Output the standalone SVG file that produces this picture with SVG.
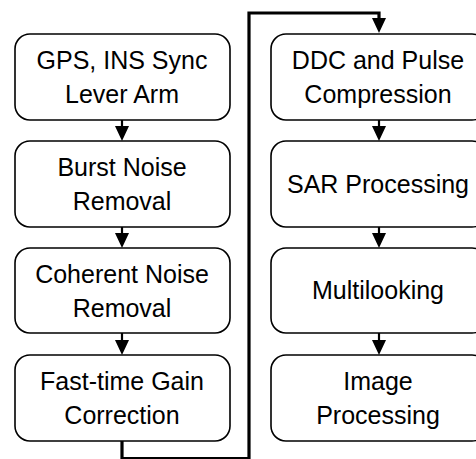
<svg xmlns="http://www.w3.org/2000/svg" width="476" height="459" viewBox="0 0 476 459">
<defs>
<style>
.box{fill:#fff;stroke:#000;stroke-width:1.6}
.t{font-family:"Liberation Sans",Arial,sans-serif;font-size:25px;fill:#000;text-anchor:middle}
.c{fill:none;stroke:#000;stroke-width:2.2}
.ct{fill:none;stroke:#000;stroke-width:3.2;stroke-linejoin:miter}
.ah{fill:#000}
</style>
</defs>
<rect width="476" height="459" fill="#fff"/>
<g id="connectors">
<line class="c" x1="122" y1="120" x2="122" y2="128"/>
<polygon class="ah" points="115,126 129,126 122,141"/>
<line class="c" x1="122" y1="227" x2="122" y2="235"/>
<polygon class="ah" points="115,233 129,233 122,248"/>
<line class="c" x1="122" y1="333" x2="122" y2="342"/>
<polygon class="ah" points="115,340 129,340 122,355"/>
<polyline class="ct" points="122,441 122,458.5 249,458.5 249,13 379,13 379,20"/>
<polygon class="ah" points="372,18 386,18 379,33"/>
<line class="c" x1="379" y1="120" x2="379" y2="128"/>
<polygon class="ah" points="372,126 386,126 379,141"/>
<line class="c" x1="379" y1="227" x2="379" y2="235"/>
<polygon class="ah" points="372,233 386,233 379,248"/>
<line class="c" x1="379" y1="333" x2="379" y2="342"/>
<polygon class="ah" points="372,340 386,340 379,355"/>
</g>
<g id="n1"><rect class="box" x="15" y="34" width="215" height="86" rx="15"/><text class="t" x="122" y="69">GPS, INS Sync</text><text class="t" x="122" y="103">Lever Arm</text></g>
<g id="n2"><rect class="box" x="15" y="141" width="215" height="86" rx="15"/><text class="t" x="122" y="176">Burst Noise</text><text class="t" x="122" y="210">Removal</text></g>
<g id="n3"><rect class="box" x="15" y="248" width="215" height="85" rx="15"/><text class="t" x="122" y="283">Coherent Noise</text><text class="t" x="122" y="317">Removal</text></g>
<g id="n4"><rect class="box" x="15" y="355" width="215" height="86" rx="15"/><text class="t" x="122" y="390">Fast-time Gain</text><text class="t" x="122" y="424">Correction</text></g>
<g id="n5"><rect class="box" x="271" y="34" width="216" height="86" rx="15"/><text class="t" x="378" y="69">DDC and Pulse</text><text class="t" x="378" y="103">Compression</text></g>
<g id="n6"><rect class="box" x="271" y="141" width="216" height="86" rx="15"/><text class="t" x="378" y="193">SAR Processing</text></g>
<g id="n7"><rect class="box" x="271" y="248" width="216" height="85" rx="15"/><text class="t" x="378" y="299">Multilooking</text></g>
<g id="n8"><rect class="box" x="271" y="355" width="216" height="86" rx="15"/><text class="t" x="378" y="390">Image</text><text class="t" x="378" y="424">Processing</text></g>
</svg>
